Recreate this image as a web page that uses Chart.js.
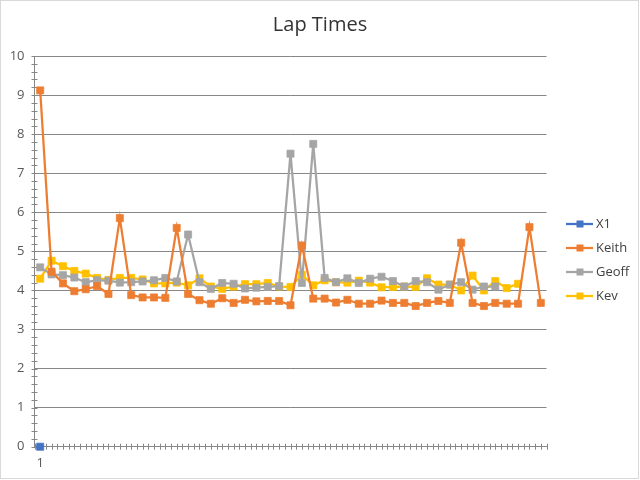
<!DOCTYPE html>
<html>
<head>
<meta charset="utf-8">
<script src="https://cdn.jsdelivr.net/npm/chart.js@4/dist/chart.umd.min.js"></script>
<style>
html,body{margin:0;padding:0;background:#fff;}
canvas{display:block;}
</style>
</head>
<body>
<canvas id="c" width="640" height="480"></canvas>
<script>
// ---- data ----
const laps = ['1','2','3','4','5','6','7','8','9','10','11','12','13','14','15','16','17','18','19','20','21','22','23','24','25','26','27','28','29','30','31','32','33','34','35','36','37','38','39','40','41','42','43','44','45'];
const shownLapLabels = ['1'];
const yTicks = [0,1,2,3,4,5,6,7,8,9,10];
const x1 = [0];
const keith = [9.12,4.48,4.18,3.98,4.03,4.11,3.91,5.85,3.88,3.82,3.82,3.81,5.60,3.91,3.75,3.66,3.80,3.68,3.76,3.72,3.73,3.73,3.62,5.15,3.79,3.79,3.69,3.76,3.66,3.66,3.74,3.68,3.68,3.60,3.68,3.73,3.68,5.22,3.68,3.60,3.68,3.66,3.66,5.62,3.68];
const geoff = [4.59,4.41,4.39,4.33,4.21,4.26,4.25,4.20,4.21,4.23,4.26,4.32,4.23,5.43,4.21,4.04,4.19,4.17,4.05,4.07,4.09,4.11,7.50,4.19,7.75,4.32,4.21,4.31,4.19,4.30,4.35,4.24,4.10,4.24,4.21,4.02,4.15,4.21,4.02,4.10,4.10];
const kev = [4.30,4.76,4.62,4.50,4.43,4.32,4.27,4.32,4.32,4.28,4.18,4.18,4.20,4.13,4.31,4.10,4.04,4.10,4.16,4.16,4.19,4.10,4.09,4.40,4.13,4.26,4.21,4.20,4.25,4.20,4.08,4.09,4.10,4.09,4.31,4.15,4.15,4.00,4.38,4.00,4.24,4.06,4.17];
const seriesNames = ['X1','Keith','Geoff','Kev'];
const seriesColors = ['#4472C4','#ED7D31','#A5A5A5','#FFC000'];
const titleText = 'Lap Times';

const FONT = "'Open Sans', 'Noto Sans', sans-serif";
const TEXT = '#595959';
const GRID = '#878787';

function mkDs(name, data, color){
  return {
    label: name, data: data,
    borderColor: color, backgroundColor: color,
    borderWidth: 2.25, tension: 0,
    pointStyle: 'rect', pointRadius: 5, pointHoverRadius: 5,
    pointBackgroundColor: color, pointBorderColor: color, pointBorderWidth: 0.75,
    spanGaps: false, clip: false
  };
}

const decor = {
  id: 'decor',
  beforeDatasetsDraw(chart){
    const ctx = chart.ctx, ca = chart.chartArea;
    const xs = chart.scales.x, ys = chart.scales.y;
    ctx.save();
    ctx.strokeStyle = GRID; ctx.lineWidth = 1;
    ctx.beginPath();
    for (let v = 0; v <= 50; v++){
      const y = Math.round(ys.getPixelForValue(v/5)) + 0.5;
      ctx.moveTo(ca.left - 3, y); ctx.lineTo(ca.left + 3, y);
    }
    const n = laps.length;
    for (let k = 0; k <= 2*n; k++){
      const x = Math.round(xs.getPixelForValue(k/2 - 0.5)) + 0.5;
      ctx.moveTo(x, ca.bottom - 3); ctx.lineTo(x, ca.bottom + 3);
    }
    ctx.stroke();
    ctx.restore();
  },
  afterDraw(chart){
    const ctx = chart.ctx;
    ctx.save();
    ctx.fillStyle = '#333333';
    ctx.font = "20px " + FONT;
    ctx.textAlign = 'center'; ctx.textBaseline = 'middle';
    ctx.fillText(titleText, 320, 25);
    ctx.font = "13px " + FONT;
    ctx.textAlign = 'left';
    for (let i = 0; i < seriesNames.length; i++){
      const y = 224 + i*24;
      ctx.strokeStyle = seriesColors[i]; ctx.lineWidth = 2.25;
      ctx.beginPath(); ctx.moveTo(566, y); ctx.lineTo(593, y); ctx.stroke();
      ctx.fillStyle = seriesColors[i];
      ctx.fillRect(576.5, y - 3.5, 7, 7);
      ctx.fillStyle = '#404040';
      ctx.fillText(seriesNames[i], 596, y + 0.5);
    }
    ctx.strokeStyle = '#d9d9d9'; ctx.lineWidth = 1;
    ctx.strokeRect(0.5, 0.5, 638, 478);
    ctx.restore();
  }
};

new Chart(document.getElementById('c'), {
  type: 'line',
  data: {
    labels: laps,
    datasets: [
      mkDs(seriesNames[0], x1, seriesColors[0]),
      mkDs(seriesNames[1], keith, seriesColors[1]),
      mkDs(seriesNames[2], geoff, seriesColors[2]),
      mkDs(seriesNames[3], kev, seriesColors[3])
    ]
  },
  options: {
    responsive: false, animation: false, devicePixelRatio: 1,
    layout: { padding: { top: 56, right: 93.5, left: 0, bottom: 0 } },
    plugins: { legend: { display: false }, title: { display: false }, tooltip: { enabled: false } },
    scales: {
      x: {
        type: 'category', offset: true,
        grid: { display: false, drawTicks: false },
        border: { display: true, color: GRID, width: 1 },
        ticks: {
          autoSkip: false, maxRotation: 0, padding: 9,
          color: TEXT, font: { family: FONT, size: 13 },
          callback: function(v, i){ return shownLapLabels.includes(laps[i]) ? laps[i] : ''; }
        },
        afterFit: function(s){ s.height = 33.3; }
      },
      y: {
        min: 0, max: 10,
        afterBuildTicks: function(s){ s.ticks = yTicks.map(v => ({ value: v })); },
        grid: { color: GRID, drawTicks: false, lineWidth: 1 },
        border: { display: true, color: GRID, width: 1 },
        ticks: { padding: 10, color: TEXT, font: { family: FONT, size: 13 } },
        afterFit: function(s){ s.width = 34.5; }
      }
    }
  },
  plugins: [decor]
});
</script>
</body>
</html>
